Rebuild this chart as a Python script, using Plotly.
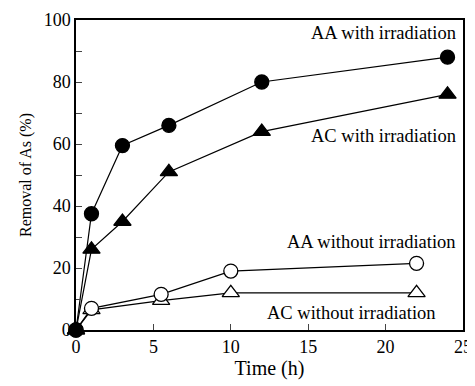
import plotly.graph_objects as go

time_aa_irr = [0, 1, 3, 6, 12, 24]
aa_irr = [0, 37.5, 59.5, 66, 80, 88]
time_ac_irr = [0, 1, 3, 6, 12, 24]
ac_irr = [0, 26, 35, 51, 64, 76]
time_aa_dark = [0, 1, 5.5, 10, 22]
aa_dark = [0, 7, 11.5, 19, 21.5]
time_ac_dark = [0, 1, 5.5, 10, 22]
ac_dark = [0, 6.5, 9.5, 12, 12]

labels = ["AA with irradiation", "AC with irradiation", "AA without irradiation", "AC without irradiation"]

FONT = "Liberation Serif, Times New Roman, serif"
fig = go.Figure()

def add(x, y, symbol, filled, name):
    fig.add_trace(go.Scatter(
        x=x, y=y, mode="lines+markers", name=name, cliponaxis=False,
        line=dict(color="black", width=1.2),
        marker=dict(symbol=symbol, size=14 if "circle" in symbol else 15,
                    color="black" if filled else "white",
                    line=dict(color="black", width=1.3)),
    ))

add(time_ac_dark, ac_dark, "triangle-up", False, labels[3])
add(time_aa_dark, aa_dark, "circle", False, labels[2])
add(time_ac_irr, ac_irr, "triangle-up", True, labels[1])
add(time_aa_irr, aa_irr, "circle", True, labels[0])

ann = [
    (labels[0], 24.7, 95.8),
    (labels[1], 24.7, 62.6),
    (labels[2], 24.7, 28.4),
    (labels[3], 23.4, 5.5),
]
for text, x, y in ann:
    fig.add_annotation(x=x, y=y, text=text, showarrow=False, xanchor="right",
                       yanchor="middle", font=dict(family=FONT, size=18.5, color="black"))

fig.update_layout(
    width=467, height=378,
    margin=dict(l=68, r=12, t=12, b=56),
    plot_bgcolor="white", paper_bgcolor="white",
    showlegend=False,
    font=dict(family=FONT, size=18, color="black"),
)
fig.update_xaxes(
    range=[0, 25], tickvals=[0, 5, 10, 15, 20, 25], ticks="inside", ticklen=6,
    showline=True, linecolor="black", linewidth=1.5, mirror=True, showgrid=False,
    zeroline=False, automargin=False,
    title=dict(text="Time (h)", standoff=2, font=dict(size=20)),
)
fig.update_yaxes(
    range=[0, 100], tickvals=[0, 20, 40, 60, 80, 100], ticks="inside", ticklen=6,
    minor=dict(tickvals=[10, 30, 50, 70, 90], ticks="inside", ticklen=6, showgrid=False),
    showline=True, linecolor="black", linewidth=1.5, mirror=True, showgrid=False,
    zeroline=False, automargin=False,
    title=dict(text="Removal of As (%)", standoff=8, font=dict(size=16)),
)
fig.write_html("out.html")
